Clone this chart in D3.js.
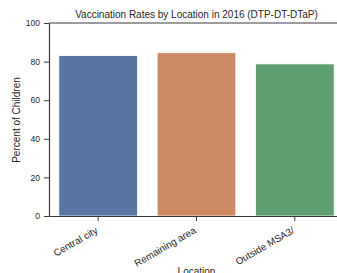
<!DOCTYPE html>
<html>
<head>
<meta charset="utf-8">
<script src="https://cdn.jsdelivr.net/npm/d3@7"></script>
<style>
  body { margin: 0; background: #fff; }
  text { font-family: "Liberation Sans", Arial, sans-serif; fill: #262626; }
</style>
</head>
<body>
<div id="chart"></div>
<script>
// data
const locations = ["Central city", "Remaining area", "Outside MSA3/"];
const percents = [83.1, 84.6, 78.8];
const barColors = ["#5975a4", "#cc8963", "#5f9e6e"];
const yTicks = [0, 20, 40, 60, 80, 100];

const W = 337, H = 273;
const margin = { left: 49, top: 23, right: -7, bottom: 57 };
const width = W - margin.left - margin.right;
const height = H - margin.top - margin.bottom;

const svg = d3.select("#chart").append("svg")
  .attr("width", W).attr("height", H);

const g = svg.append("g")
  .attr("transform", "translate(" + margin.left + "," + margin.top + ")");

const x = d3.scaleBand().domain(locations).range([0, width])
  .paddingInner(0.2).paddingOuter(0.1);
const y = d3.scaleLinear().domain([0, 100]).range([height, 0]);

// bars
g.selectAll("rect.bar")
  .data(locations)
  .enter()
  .append("rect")
  .attr("class", "bar")
  .attr("x", d => x(d))
  .attr("y", (d, i) => y(percents[i]))
  .attr("width", x.bandwidth())
  .attr("height", (d, i) => height - y(percents[i]))
  .attr("fill", (d, i) => barColors[i])
  .attr("stroke", "#ffffff")
  .attr("stroke-width", 0.8);

// y axis
const yAxis = g.append("g")
  .call(d3.axisLeft(y).tickValues(yTicks).tickSize(5).tickSizeOuter(0).tickPadding(4));
yAxis.selectAll("text").style("font-size", "8.5px");

// x axis
const xAxis = g.append("g")
  .attr("transform", "translate(0," + height + ")")
  .call(d3.axisBottom(x).tickSize(5).tickSizeOuter(0));
xAxis.selectAll("text")
  .style("font-size", "9.8px")
  .attr("text-anchor", "end")
  .attr("x", -4)
  .attr("y", 0)
  .attr("dy", "0.75em")
  .attr("transform", "translate(0,8) rotate(-30)");

// top spine
g.append("line")
  .attr("x1", 0).attr("x2", width)
  .attr("y1", 0).attr("y2", 0);

g.selectAll(".domain, .tick line, line")
  .attr("stroke", "#3a3a3a").attr("stroke-width", 1);
g.selectAll(".domain").attr("stroke-width", 1.2);

// labels
svg.append("text")
  .attr("x", margin.left + width / 2)
  .attr("y", 18)
  .attr("text-anchor", "middle")
  .style("font-size", "10px")
  .text("Vaccination Rates by Location in 2016 (DTP-DT-DTaP)");

svg.append("text")
  .attr("transform", "translate(20," + (margin.top + 97) + ") rotate(-90)")
  .attr("text-anchor", "middle")
  .style("font-size", "10px")
  .text("Percent of Children");

svg.append("text")
  .attr("x", margin.left + width / 2)
  .attr("y", 275)
  .attr("text-anchor", "middle")
  .style("font-size", "10px")
  .text("Location");
</script>
</body>
</html>
